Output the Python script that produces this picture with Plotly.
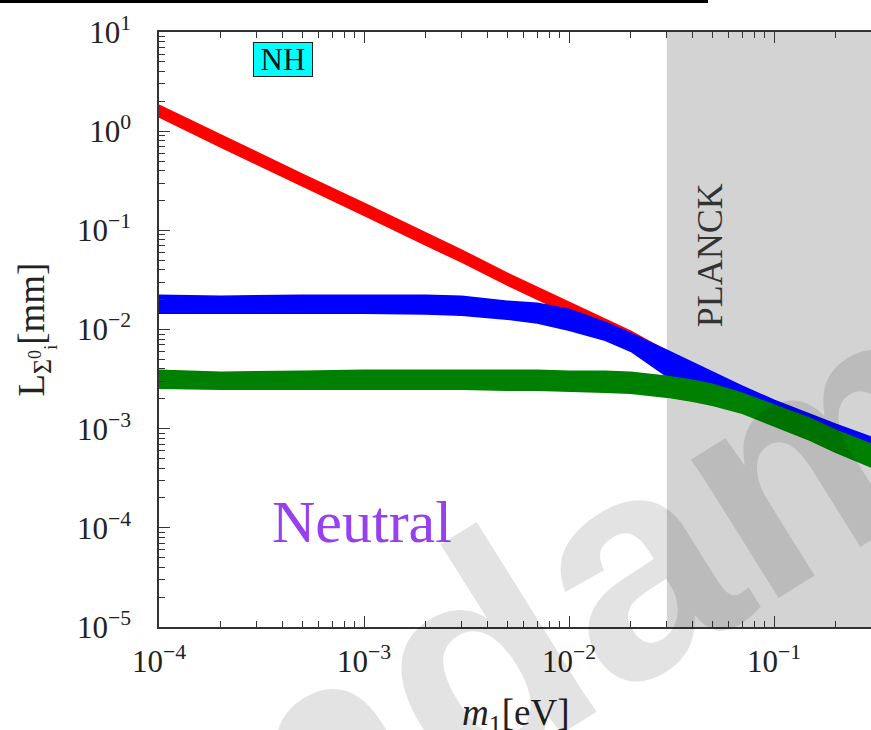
import plotly.graph_objects as go

# Lightest neutrino mass samples [eV]
m1 = [1e-4, 2e-4, 5e-4, 1e-3, 2e-3, 3e-3, 5e-3, 7e-3, 1e-2, 1.5e-2,
      2e-2, 3e-2, 4e-2, 5e-2, 7e-2, 0.1, 0.15, 0.2, 0.3]

# Upper / lower envelope of each scan band, L [mm]
red_hi = [1.83, 0.913, 0.369, 0.188, 0.0937, 0.0631, 0.0370, 0.0267, 0.0189, 0.0127,
          0.00961, 0.00604, 0.00447, 0.00354, 0.00256, 0.00185, 0.00133, 0.00103, 0.000764]
red_lo = [1.39, 0.691, 0.279, 0.142, 0.0709, 0.0478, 0.0280, 0.0202, 0.0143, 0.00961,
          0.00727, 0.00479, 0.00354, 0.00281, 0.00203, 0.00146, 0.00106, 0.000819, 0.000605]

blue_hi = [0.0222, 0.0217, 0.0222, 0.0222, 0.0222, 0.0217, 0.0193, 0.0184, 0.0160, 0.01185,
           0.00918, 0.00618, 0.00468, 0.00371, 0.00268, 0.00194, 0.0014, 0.00111, 0.000819]
blue_lo = [0.0146, 0.0146, 0.0146, 0.0146, 0.0143, 0.0139, 0.0127, 0.0116, 0.00984, 0.0078,
           0.00604, 0.00338, 0.00274, 0.00217, 0.00168, 0.00122, 0.000878, 0.00068, 0.000539]

green_hi = [0.00388, 0.00371, 0.0038, 0.00388, 0.00388, 0.00388, 0.00388, 0.00388, 0.0038, 0.0038,
            0.00371, 0.00338, 0.00308, 0.00281, 0.00228, 0.00172, 0.00127, 0.000964, 0.000696]
green_lo = [0.00256, 0.0025, 0.0025, 0.0025, 0.0025, 0.0025, 0.00244, 0.00244, 0.00238, 0.00233,
            0.00228, 0.00208, 0.00189, 0.00172, 0.00143, 0.00106, 0.000764, 0.000578, 0.000408]

planck_bound = 0.03  # eV

x_tickvals = [1e-4, 1e-3, 1e-2, 1e-1]
x_ticktext = ["10<sup>−4</sup>", "10<sup>−3</sup>", "10<sup>−2</sup>", "10<sup>−1</sup>"]
y_tickvals = [1e-5, 1e-4, 1e-3, 1e-2, 1e-1, 1e0, 1e1]
y_ticktext = ["10<sup>−5</sup>", "10<sup>−4</sup>", "10<sup>−3</sup>", "10<sup>−2</sup>",
              "10<sup>−1</sup>", "10<sup>0</sup>", "10<sup>1</sup>"]

x_minor = [k * 10.0 ** e for e in range(-4, 0) for k in range(2, 10)]
y_minor = [k * 10.0 ** e for e in range(-5, 1) for k in range(2, 10)]

SERIF = "Liberation Serif"
AX = "#333333"

fig = go.Figure()

bands = [("#ff0000", red_hi, red_lo), ("#0000ff", blue_hi, blue_lo), ("#008000", green_hi, green_lo)]
for color, hi, lo in bands:
    fig.add_trace(go.Scatter(
        x=m1 + m1[::-1], y=hi + lo[::-1],
        mode="lines", fill="toself", fillcolor=color,
        line=dict(color=color, width=1.5),
        hoverinfo="skip", showlegend=False,
    ))

# Excluded region
fig.add_shape(type="rect", xref="x", yref="paper", x0=planck_bound, x1=0.3, y0=0, y1=1,
              fillcolor="#d3d3d3", line=dict(width=0), layer="below")

# Rule along the top of the page
fig.add_shape(type="rect", xref="paper", yref="paper", x0=-0.2233, x1=0.7711, y0=1.0487, y1=1.0540,
              fillcolor="black", line=dict(width=0))

axis_common = dict(
    type="log", showline=True, linecolor=AX, linewidth=1.5,
    ticks="inside", ticklen=11, tickwidth=1.2, tickcolor=AX,
    showgrid=False, zeroline=False,
    tickfont=dict(family=SERIF, size=31, color="#222222"),
)

fig.update_xaxes(range=[-4, -0.527], mirror="ticks", tickmode="array",
                 tickvals=x_tickvals, ticktext=x_ticktext, ticklabelstandoff=6,
                 minor=dict(tickmode="array", tickvals=x_minor, ticks="inside", ticklen=6,
                            tickwidth=1, tickcolor=AX, showgrid=False),
                 **axis_common)
fig.update_yaxes(range=[-5, 1], mirror=False, tickmode="array",
                 tickvals=y_tickvals, ticktext=y_ticktext, ticklabelstandoff=20,
                 minor=dict(tickmode="array", tickvals=y_minor, ticks="inside", ticklen=6,
                            tickwidth=1, tickcolor=AX, showgrid=False),
                 **axis_common)

annotations = [
    dict(text="NH", x=0.1742, y=0.953, font=dict(family=SERIF, size=31, color="#111111"),
         bgcolor="#00ffff", bordercolor="#222222", borderwidth=1, borderpad=1,
         width=56, height=31),
    dict(text="Neutral", x=0.285, y=0.176, font=dict(family=SERIF, size=60, color="#9640f0")),
    dict(text="PLANCK", x=0.774, y=0.625, textangle=-90, font=dict(family=SERIF, size=36, color="#333333")),
    dict(text="L<sub>Σ<sup>0</sup><sub>i</sub></sub>[mm]", x=-0.174, y=0.5, textangle=-90,
         font=dict(family=SERIF, size=37, color="#222222")),
    dict(text="<i>m</i><sub>1</sub>[eV]", x=0.5, y=-0.148, font=dict(family=SERIF, size=37, color="#222222")),
    dict(text="<b>ndam</b>", x=0.6, y=0.06, textangle=-32,
         font=dict(family="Liberation Sans", size=310, color="rgba(0,0,0,0.11)")),
]
for a in annotations:
    a.setdefault("xref", "paper")
    a.setdefault("yref", "paper")
    a.setdefault("showarrow", False)
    a.setdefault("xanchor", "center")
    a.setdefault("yanchor", "middle")
    fig.add_annotation(**a)

fig.update_layout(width=871, height=730, margin=dict(l=159, r=0, t=32, b=103),
                  paper_bgcolor="white", plot_bgcolor="white", showlegend=False,
                  font=dict(family=SERIF))

fig.write_html("out.html")
